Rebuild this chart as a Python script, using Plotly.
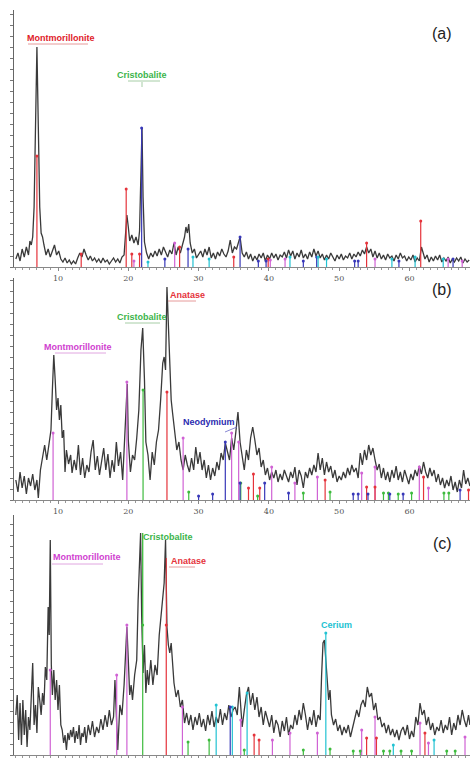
import plotly.graph_objects as go

W, H = 470, 758

# ---------------- data: panel (a) ----------------
a_x = [4.0,4.3,4.6,4.9,5.2,5.5,5.8,6.0,6.2,6.4,6.6,6.8,7.0,7.2,7.4,7.6,7.8,8.0,8.3,8.6,8.9,9.2,9.5,9.8,10.1,10.4,10.7,11.0,11.3,11.6,11.9,12.2,12.5,12.8,13.1,13.4,13.7,14.0,14.3,14.6,14.9,15.2,15.5,15.8,16.1,16.4,16.7,17.0,17.3,17.6,17.9,18.2,18.5,18.8,19.1,19.4,19.6,19.8,20.0,20.2,20.5,20.8,21.1,21.4,21.6,21.8,21.95,22.1,22.3,22.6,22.9,23.2,23.5,23.8,24.1,24.4,24.7,25.0,25.3,25.6,25.9,26.2,26.5,26.8,27.1,27.4,27.7,28.0,28.2,28.4,28.6,28.8,29.1,29.4,29.7,30.0,30.3,30.6,30.9,31.2,31.5,31.8,32.1,32.4,32.7,33.0,33.3,33.6,33.9,34.2,34.5,34.8,35.1,35.4,35.7,35.9,36.2,36.5,36.8,37.1,37.4,37.7,38.0,38.3,38.6,38.9,39.2,39.5,39.8,40.1,40.4,40.7,41.0,41.3,41.6,41.9,42.2,42.5,42.8,43.1,43.4,43.7,44.0,44.3,44.6,44.9,45.2,45.5,45.8,46.1,46.4,46.7,47.0,47.3,47.6,47.9,48.2,48.5,48.8,49.1,49.4,49.7,50.0,50.3,50.6,50.9,51.2,51.5,51.8,52.1,52.4,52.7,53.0,53.3,53.6,53.9,54.2,54.5,54.8,55.1,55.4,55.7,56.0,56.3,56.6,56.9,57.2,57.5,57.8,58.1,58.4,58.7,59.0,59.3,59.6,59.9,60.2,60.5,60.8,61.1,61.4,61.7,61.9,62.2,62.5,62.8,63.1,63.4,63.7,64.0,64.3,64.6,64.9,65.2,65.5,65.8,66.1,66.4,66.7,67.0,67.3,67.6,67.9,68.2,68.5]
a_y = [8,14,6,18,10,20,12,26,22,30,60,150,220,140,60,34,30,22,12,18,10,16,22,12,16,8,5,9,4,7,3,6,3,9,14,10,18,12,7,11,6,9,5,8,4,9,5,7,3,6,9,5,8,4,10,12,30,52,40,26,32,24,30,22,36,100,139,70,25,14,8,14,10,16,11,18,12,20,14,10,17,13,24,12,20,14,22,30,40,34,43,24,14,18,9,12,16,10,18,12,20,9,14,8,15,11,18,13,10,16,27,14,20,18,26,30,14,10,15,8,13,6,11,7,13,9,14,6,12,8,14,9,13,7,12,10,15,9,17,11,16,8,14,10,17,9,13,8,15,10,18,11,16,9,13,7,12,8,14,10,6,12,8,13,7,11,9,14,8,13,10,15,11,17,13,20,14,18,10,16,9,14,8,12,7,13,9,11,6,12,8,14,9,11,6,10,7,12,5,9,6,20,14,8,12,5,10,6,11,7,12,5,9,6,10,4,8,5,9,6,10,4,8,5,7]

a_red_pos = [7.0, 13.3, 19.7, 20.5, 21.6, 27.3, 35.0, 39.9, 53.9, 61.6]
a_red_h   = [111, 13, 78, 13, 13, 20, 10, 8, 24, 46]
a_blue_pos = [21.9, 25.2, 28.5, 35.9, 38.5, 39.6, 44.9, 46.8, 52.2, 52.7, 58.5, 66.2]
a_blue_h   = [139, 8, 18, 30, 6, 6, 6, 10, 6, 6, 6, 8]
a_mag_pos = [20.8, 26.6, 40.2, 42.3, 55.1, 65.5, 67.5]
a_mag_h   = [6, 24, 7, 8, 8, 8, 6]
a_cyan_pos = [22.8, 29.2, 31.5, 43.0, 47.0, 48.2, 57.5, 60.8, 64.8]
a_cyan_h   = [5, 10, 8, 10, 10, 8, 8, 10, 8]

# ---------------- data: panel (b) ----------------
b_x = [4.0,4.3,4.6,4.9,5.2,5.5,5.8,6.1,6.4,6.7,7.0,7.2,7.5,7.8,8.1,8.4,8.7,9.0,9.2,9.4,9.6,9.8,10.0,10.2,10.4,10.6,10.8,11.0,11.2,11.5,11.8,12.0,12.3,12.6,12.9,13.2,13.5,13.8,14.1,14.4,14.7,15.0,15.3,15.6,15.9,16.2,16.5,16.8,17.1,17.4,17.7,18.0,18.3,18.6,18.9,19.2,19.5,19.7,19.85,20.0,20.3,20.6,20.9,21.2,21.5,21.8,22.05,22.3,22.5,22.8,23.1,23.4,23.7,24.0,24.3,24.6,24.9,25.1,25.3,25.5,25.7,25.9,26.1,26.3,26.6,26.9,27.2,27.5,27.8,28.1,28.4,28.7,29.0,29.3,29.6,29.9,30.2,30.5,30.8,31.1,31.4,31.7,32.0,32.3,32.6,32.9,33.2,33.5,33.8,34.1,34.4,34.7,35.0,35.3,35.6,35.9,36.2,36.5,36.8,37.1,37.4,37.7,38.0,38.3,38.6,38.9,39.2,39.5,39.8,40.1,40.4,40.7,41.0,41.3,41.6,41.9,42.2,42.5,42.8,43.1,43.4,43.7,44.0,44.3,44.6,44.9,45.2,45.5,45.8,46.1,46.4,46.7,47.0,47.3,47.6,47.9,48.2,48.5,48.8,49.1,49.4,49.7,50.0,50.3,50.6,50.9,51.2,51.5,51.8,52.1,52.4,52.7,53.0,53.3,53.6,53.9,54.2,54.5,54.8,55.1,55.4,55.7,56.0,56.3,56.6,56.9,57.2,57.5,57.8,58.1,58.4,58.7,59.0,59.3,59.6,59.9,60.2,60.5,60.8,61.1,61.4,61.7,62.0,62.3,62.6,62.9,63.2,63.5,63.8,64.1,64.4,64.7,65.0,65.3,65.6,65.9,66.2,66.5,66.8,67.1,67.4,67.7,68.0,68.3,68.6]
b_y = [20,8,28,12,24,6,22,14,26,10,20,2,30,42,55,40,58,70,110,145,120,90,102,80,95,62,70,28,50,36,45,27,40,30,55,25,42,22,35,28,48,60,30,44,25,38,52,30,46,22,40,28,58,34,48,20,60,100,116,60,28,45,40,62,90,150,172,120,58,45,20,48,35,58,70,100,137,143,130,213,180,130,100,87,66,50,58,40,30,45,35,28,42,30,53,36,48,30,40,22,35,20,32,24,38,30,47,40,57,48,40,62,50,68,88,58,42,30,50,40,62,73,60,45,52,33,40,25,32,20,28,22,30,18,26,20,30,24,18,28,22,33,15,30,24,12,28,22,32,25,35,28,47,30,42,25,38,28,34,22,30,18,24,20,28,22,32,25,35,28,32,22,47,35,50,40,55,45,52,40,30,36,22,32,20,28,18,30,22,34,20,28,18,30,22,16,26,20,30,24,34,26,38,28,22,32,24,30,18,26,15,22,12,20,14,24,10,18,8,20,12,30,16,22,14]

b_mag_pos = [9.3, 19.8, 27.8, 34.7, 35.7, 40.4, 43.7, 46.9, 53.2, 55.1, 61.4, 62.7]
b_mag_h   = [67, 118, 62, 67, 58, 33, 17, 23, 27, 33, 33, 12]
b_green_pos = [22.1, 28.6, 36.0, 38.4, 44.9, 48.7, 56.3, 57.0, 58.4, 60.3, 64.9, 65.6]
b_green_h   = [110, 8, 17, 4, 7, 8, 7, 7, 6, 7, 7, 7]
b_red_pos = [25.5, 37.1, 37.8, 38.7, 48.0, 53.9, 55.1, 62.0, 68.4]
b_red_h   = [108, 12, 26, 12, 20, 13, 13, 23, 10]
b_blue_pos = [30.0, 32.0, 33.8, 35.9, 39.4, 42.8, 52.0, 52.7, 54.1, 57.2, 59.1, 67.2]
b_blue_h   = [4, 6, 58, 17, 17, 7, 6, 6, 6, 6, 6, 10]

# ---------------- data: panel (c) ----------------
c_x = [4.0,4.2,4.4,4.6,4.8,5.0,5.2,5.4,5.6,5.8,6.0,6.2,6.4,6.6,6.8,7.0,7.2,7.4,7.6,7.8,8.0,8.2,8.4,8.6,8.75,8.9,9.05,9.2,9.4,9.6,9.8,10.0,10.2,10.4,10.6,10.8,11.0,11.2,11.4,11.6,11.8,12.0,12.2,12.4,12.6,12.8,13.0,13.2,13.4,13.6,13.8,14.0,14.3,14.6,14.9,15.2,15.5,15.8,16.1,16.4,16.7,17.0,17.3,17.6,17.9,18.1,18.3,18.5,18.8,19.1,19.4,19.6,19.8,20.0,20.2,20.4,20.6,20.9,21.2,21.4,21.6,21.75,21.9,22.1,22.3,22.5,22.7,22.9,23.2,23.5,23.8,24.1,24.4,24.7,24.9,25.1,25.3,25.5,25.7,25.9,26.1,26.3,26.5,26.8,27.1,27.4,27.7,28.0,28.3,28.6,28.9,29.2,29.5,29.8,30.1,30.4,30.7,31.0,31.3,31.6,31.9,32.2,32.5,32.8,33.1,33.4,33.7,34.0,34.3,34.6,34.9,35.2,35.5,35.8,36.0,36.2,36.5,36.8,37.1,37.4,37.7,38.0,38.3,38.6,38.9,39.2,39.5,39.8,40.1,40.4,40.7,41.0,41.3,41.6,41.9,42.2,42.5,42.8,43.1,43.4,43.7,44.0,44.3,44.6,44.9,45.2,45.5,45.8,46.1,46.4,46.7,47.0,47.3,47.5,47.7,47.9,48.1,48.3,48.5,48.7,48.9,49.2,49.5,49.8,50.1,50.4,50.7,51.0,51.3,51.6,51.9,52.2,52.5,52.8,53.1,53.4,53.7,54.0,54.3,54.6,54.9,55.2,55.5,55.8,56.1,56.4,56.7,57.0,57.3,57.6,57.9,58.2,58.5,58.8,59.1,59.4,59.7,60.0,60.3,60.6,60.9,61.2,61.5,61.8,62.1,62.4,62.7,63.0,63.3,63.6,63.9,64.2,64.5,64.8,65.1,65.4,65.7,66.0,66.3,66.6,66.9,67.2,67.5,67.8,68.1,68.4,68.6]
c_y = [40,60,15,52,10,55,20,45,8,38,25,55,92,30,50,22,68,55,40,62,50,88,75,148,120,215,90,60,85,55,75,45,70,30,25,12,20,5,22,15,25,18,28,12,24,16,30,10,22,18,28,12,30,20,34,18,28,22,36,25,40,28,45,30,38,75,30,5,50,40,70,100,128,95,60,70,55,80,95,155,200,222,140,82,110,62,85,70,95,70,90,80,120,145,160,172,215,128,110,102,112,95,72,58,65,48,55,32,42,30,40,25,38,30,42,28,36,24,40,30,44,28,38,32,46,30,42,35,50,38,45,48,40,68,50,28,45,60,68,50,62,45,58,38,48,30,44,36,28,40,22,35,30,18,34,24,38,20,30,26,40,30,45,35,52,40,25,38,30,45,28,40,35,80,112,115,95,70,55,65,40,30,36,24,30,20,28,22,30,18,28,35,45,38,50,55,48,68,58,62,45,52,35,38,28,32,22,30,20,26,18,25,15,24,28,20,30,16,24,18,38,30,52,40,45,30,38,25,32,20,28,24,35,22,30,25,38,20,32,25,40,30,45,35,28,40,30]

c_mag_pos = [8.9, 18.35, 19.8, 27.7, 36.0, 40.5, 43.0, 46.9, 53.2, 55.1, 61.5, 62.7, 67.9]
c_mag_h   = [85, 80, 130, 48, 35, 15, 22, 22, 25, 38, 32, 12, 18]
c_green_pos = [22.05, 28.5, 31.5, 36.5, 44.9, 48.7, 52.0, 53.0, 56.3, 57.2, 58.8, 60.3, 65.3, 66.5]
c_green_h   = [130, 13, 15, 5, 5, 6, 4, 4, 4, 4, 4, 4, 4, 4]
c_red_pos = [25.4, 37.9, 38.6, 53.9, 55.3, 62.2]
c_red_h   = [130, 20, 15, 17, 17, 22]
c_cyan_pos = [32.5, 34.8, 36.9, 48.1, 57.7, 63.5]
c_cyan_h   = [50, 48, 62, 122, 10, 15]
c_blue_pos = [34.5]
c_blue_h   = [48]

tick_vals = [10, 20, 30, 40, 50, 60]
tick_text = ["10", "20", "30", "40", "50", "60"]

RED = "#e5333b"
GREEN = "#3dbb3d"
BLUE = "#3838b8"
MAG = "#d062d4"
CYAN = "#22c2d2"
TRACE = "#3a3a3a"

# ---------------- figure ----------------
fig = go.Figure()

def add_sticks(pos, h, color, xa, ya):
    xs, ys = [], []
    for p, v in zip(pos, h):
        xs += [p, p, None]
        ys += [0, v, None]
    fig.add_trace(go.Scatter(x=xs, y=ys, mode="lines", line=dict(color=color, width=1.2),
                             xaxis=xa, yaxis=ya, hoverinfo="skip", showlegend=False))
    fig.add_trace(go.Scatter(x=pos, y=h, mode="markers", marker=dict(color=color, size=3),
                             xaxis=xa, yaxis=ya, hoverinfo="skip", showlegend=False))

def add_trace(x, y, xa, ya):
    fig.add_trace(go.Scatter(x=x, y=y, mode="lines", line=dict(color=TRACE, width=1.3),
                             xaxis=xa, yaxis=ya, showlegend=False))

# panel a
add_trace(a_x, a_y, "x", "y")
add_sticks(a_red_pos, a_red_h, RED, "x", "y")
add_sticks(a_blue_pos, a_blue_h, BLUE, "x", "y")
add_sticks(a_mag_pos, a_mag_h, MAG, "x", "y")
add_sticks(a_cyan_pos, a_cyan_h, CYAN, "x", "y")
# panel b
add_trace(b_x, b_y, "x2", "y2")
add_sticks(b_mag_pos, b_mag_h, MAG, "x2", "y2")
add_sticks(b_green_pos, b_green_h, GREEN, "x2", "y2")
add_sticks(b_red_pos, b_red_h, RED, "x2", "y2")
add_sticks(b_blue_pos, b_blue_h, BLUE, "x2", "y2")
# panel c
add_trace(c_x, c_y, "x3", "y3")
add_sticks(c_mag_pos, c_mag_h, MAG, "x3", "y3")
add_sticks(c_green_pos, c_green_h, GREEN, "x3", "y3")
add_sticks(c_red_pos, c_red_h, RED, "x3", "y3")
add_sticks(c_cyan_pos, c_cyan_h, CYAN, "x3", "y3")
add_sticks(c_blue_pos, c_blue_h, BLUE, "x3", "y3")

def py(p):
    return 1 - p / H

def px(p):
    return p / W

x_dom = [px(14), 1]
x_range = [3.74, 68.61]

def xaxis(anchor, labels=True):
    return dict(domain=x_dom, range=x_range, anchor=anchor, showline=True, linecolor="#888",
                linewidth=1, ticks="outside", ticklen=3, tickcolor="#888", tickvals=tick_vals,
                ticktext=tick_text, showticklabels=labels,
                tickfont=dict(size=8, color="#555", family="DejaVu Serif"),
                minor=dict(dtick=1, tick0=0, ticks="outside", ticklen=2, tickcolor="#999"),
                showgrid=False, zeroline=False)

def yaxis(anchor, dom, rng):
    return dict(domain=dom, range=rng, anchor=anchor, showline=True, linecolor="#666",
                linewidth=1, ticks="outside", ticklen=3, tickcolor="#777", dtick=11,
                showticklabels=False, showgrid=False, zeroline=False)

annotations = []

def label(text, cx, cy, color, size=9, bold=True):
    t = "<b>%s</b>" % text if bold else text
    annotations.append(dict(text=t, x=px(cx), y=py(cy), xref="paper", yref="paper",
                            showarrow=False, xanchor="center", yanchor="middle",
                            font=dict(size=size, color=color, family="Liberation Sans, Arial")))

shapes = []

def seg(x0, y0, x1, y1, color, w=0.8):
    shapes.append(dict(type="line", xref="paper", yref="paper", x0=px(x0), y0=py(y0),
                       x1=px(x1), y1=py(y1), line=dict(color=color, width=w)))

# panel a labels
label("Montmorillonite", 61, 38, "#e0202a")
seg(28, 44, 88, 44, "#e08080")
label("Cristobalite", 142, 75.5, "#3cb44b")
seg(128, 81, 160, 81, "#90c090")
seg(142, 82, 142, 87, "#90c090")
label("(a)", 442, 34, "#222", size=16, bold=False)

# panel b labels
label("Anatase", 187, 294.5, RED)
seg(168, 301, 196, 301, "#e08080")
label("Cristobalite", 142, 317, "#3cb44b")
seg(125, 323, 160, 323, "#90c090")
label("Montmorillonite", 78, 347, "#d040d0")
seg(55, 353, 106, 353, "#d890d8")
label("Neodymium", 209, 421.5, "#2b2bb0")
seg(225, 432, 237, 427, "#6a6ac8")
label("(b)", 442, 289, "#222", size=16, bold=False)

# panel c labels
label("Cristobalite", 168, 537, "#3cb44b")
seg(142.7, 533, 142.7, 625, GREEN, 1.3)
label("Montmorillonite", 87, 557, "#d040d0")
seg(52, 564, 103, 564, "#d890d8")
label("Anatase", 188, 561, RED)
seg(169, 567, 195, 567, "#e08080")
seg(166.3, 558, 166.3, 625, RED, 1.0)
label("Cerium", 336, 625, CYAN)
label("(c)", 442, 543, "#222", size=16, bold=False)

fig.update_layout(
    width=W, height=H, margin=dict(l=0, r=0, t=0, b=0),
    paper_bgcolor="white", plot_bgcolor="white", showlegend=False,
    xaxis=xaxis("y"), yaxis=yaxis("x", [py(267), py(10)], [0, 257]),
    xaxis2=xaxis("y2"), yaxis2=yaxis("x2", [py(500), py(278)], [0, 222]),
    xaxis3=xaxis("y3", labels=False), yaxis3=yaxis("x3", [py(755), py(515)], [0, 240]),
    annotations=annotations, shapes=shapes,
)

fig.write_html("out.html", config={"displayModeBar": False},
               post_script="document.body.style.margin='0';document.body.style.overflow='hidden';")
